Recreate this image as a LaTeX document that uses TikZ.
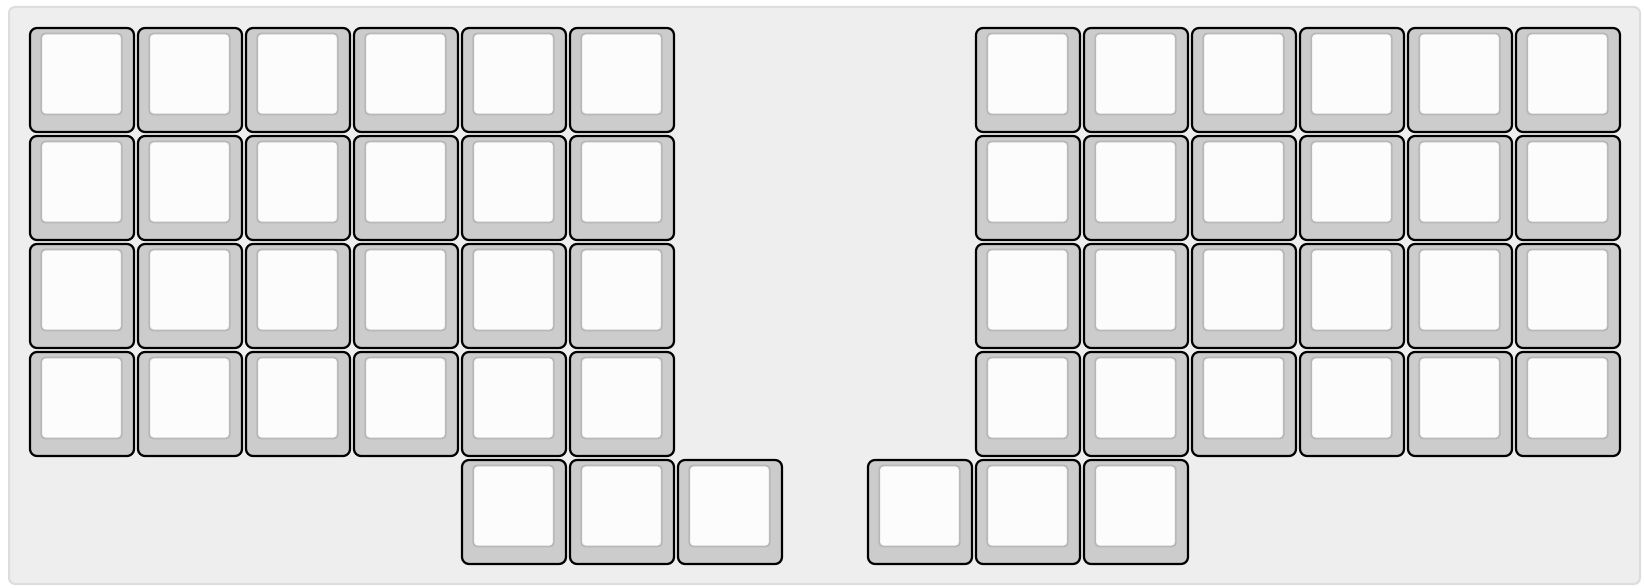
\documentclass[tikz,border=0pt]{standalone}
\usepackage{tikz}
\usetikzlibrary{positioning}
\definecolor{boardbg}{HTML}{EEEEEE}
\definecolor{boardedge}{HTML}{DDDDDD}
\definecolor{capgray}{HTML}{CCCCCC}
\definecolor{topwhite}{HTML}{FCFCFC}
\definecolor{topedge}{HTML}{B8B8B8}

\begin{document}
\begin{tikzpicture}[x=0.5pt, y=-0.5pt]
\tikzset{keycap/.style={draw=black, line width=1.1pt, fill=capgray, rounded corners=3.5pt, minimum width=52pt, minimum height=52pt, inner sep=0pt}}
\tikzset{keytop/.style={draw=topedge, line width=0.9pt, fill=topwhite, rounded corners=2pt, minimum width=40.3pt, minimum height=40.5pt, inner sep=0pt, xshift=-0.25pt, yshift=3pt}}
\useasboundingbox (0,0) rectangle (1644,588);
\draw[boardedge, fill=boardbg, line width=1pt, rounded corners=3pt] (9,7) rectangle (1640,584);
% left half
\foreach \r in {0,...,3}
  \foreach \c in {0,...,5} {
    \node[keycap] (L\r\c) at (82+108*\c, 80+108*\r) {};
    \node[keytop] (L\r\c t) at (L\r\c.center) {};
  }
% right half
\foreach \r in {0,...,3}
  \foreach \c in {0,...,5} {
    \node[keycap] (R\r\c) at (82+108*\c+946, 80+108*\r) {};
    \node[keytop] (R\r\c t) at (R\r\c.center) {};
  }
% thumb keys
\foreach \c [count=\i] in {4,5,6} {
  \node[keycap] (LT\i) at (82+108*\c, 512) {};
  \node[keytop] (LT\i t) at (LT\i.center) {};
}
\foreach \c [count=\i] in {7.75,8.75,9.75} {
  \node[keycap] (RT\i) at (82+108*\c+1, 512) {};
  \node[keytop] (RT\i t) at (RT\i.center) {};
}
\end{tikzpicture}
\end{document}
